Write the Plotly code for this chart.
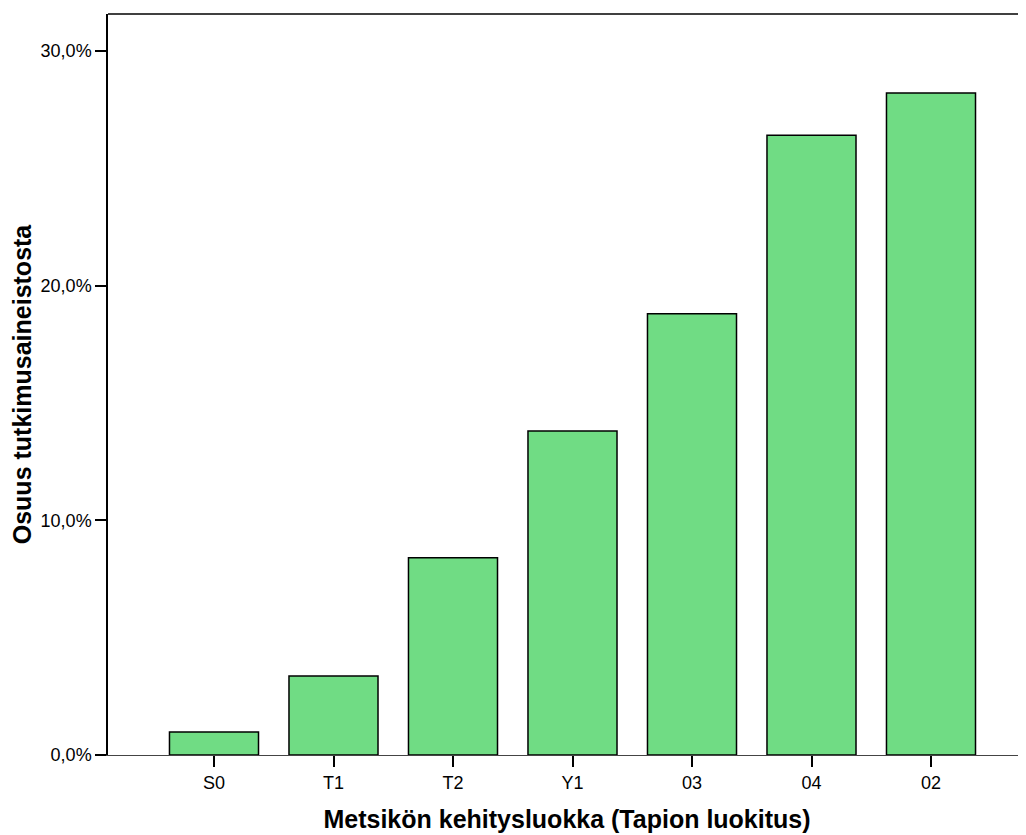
import plotly.graph_objects as go

categories = ["S0", "T1", "T2", "Y1", "03", "04", "02"]
shares = [0.0098, 0.0337, 0.084, 0.138, 0.188, 0.264, 0.282]
y_ticks = [0.0, 0.1, 0.2, 0.3]

fig = go.Figure(go.Bar(
    x=list(range(len(categories))), y=shares,
    marker=dict(color="rgb(112,220,132)", line=dict(color="black", width=1.5)),
    width=0.745,
))

fig.update_layout(
    width=1026, height=835,
    margin=dict(l=100, r=8, t=6, b=88),
    plot_bgcolor="white", paper_bgcolor="white",
    separators=", ",
    font=dict(family="Liberation Sans, Arial", size=18, color="black"),
    showlegend=False,
    xaxis=dict(
        range=[-0.887, 6.795],
        tickvals=list(range(len(categories))), ticktext=categories,
        ticks="outside", ticklen=11, tickwidth=2, tickcolor="black",
        showline=True, linecolor="#444", linewidth=1,
        showgrid=False, zeroline=False,
        title=dict(text="<b>Metsikön kehitysluokka (Tapion luokitus)</b>",
                   font=dict(size=25), standoff=18),
    ),
    yaxis=dict(
        range=[0, 0.3157],
        tickvals=y_ticks, tickformat=".1%",
        ticks="outside", ticklen=11, tickwidth=2, tickcolor="black",
        showline=True, linecolor="black", linewidth=1.5,
        showgrid=False, zeroline=False,
        title=dict(text="<b>Osuus tutkimusaineistosta</b>",
                   font=dict(size=25), standoff=6),
    ),
    shapes=[dict(type="line", xref="paper", yref="paper", x0=0, x1=1, y0=1, y1=1,
                 line=dict(color="black", width=1.5))],
)

fig.write_html("out.html")
